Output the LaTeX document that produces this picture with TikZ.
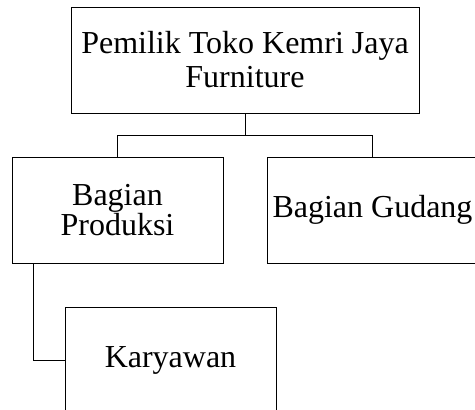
\documentclass[tikz,border=0pt]{standalone}
\usepackage{fontspec}
\setmainfont{Liberation Serif}
\begin{document}
\begin{tikzpicture}[x=1pt,y=-1pt,
  orgbox/.style={draw=black, line width=0.8pt, inner sep=0pt, align=center,
    minimum height=106pt, font=\fontsize{32}{34}\selectfont},
  conn/.style={draw=black, line width=0.8pt}]
\useasboundingbox (0,0) rectangle (475,410);
\clip (0,0) rectangle (475,410);
\node[orgbox, minimum width=348pt] (top) at (245,60) {Pemilik Toko Kemri Jaya\\Furniture};
\node[orgbox, minimum width=211pt, font=\fontsize{32}{30}\selectfont] (prod) at (117.5,210) {Bagian\\Produksi};
\node[orgbox, minimum width=211pt] (gud) at (372.5,210) {Bagian Gudang};
\node[orgbox, minimum width=211pt] (kar) at (170.5,360) {Karyawan};
\coordinate (j) at (245,135);
\draw[conn] (top.south) -- (j);
\draw[conn] (prod.north) -- (prod.north |- j) -- (gud.north |- j) -- (gud.north);
\draw[conn] ([xshift=-84.5pt]prod.south) |- (kar.west);
\end{tikzpicture}
\end{document}
